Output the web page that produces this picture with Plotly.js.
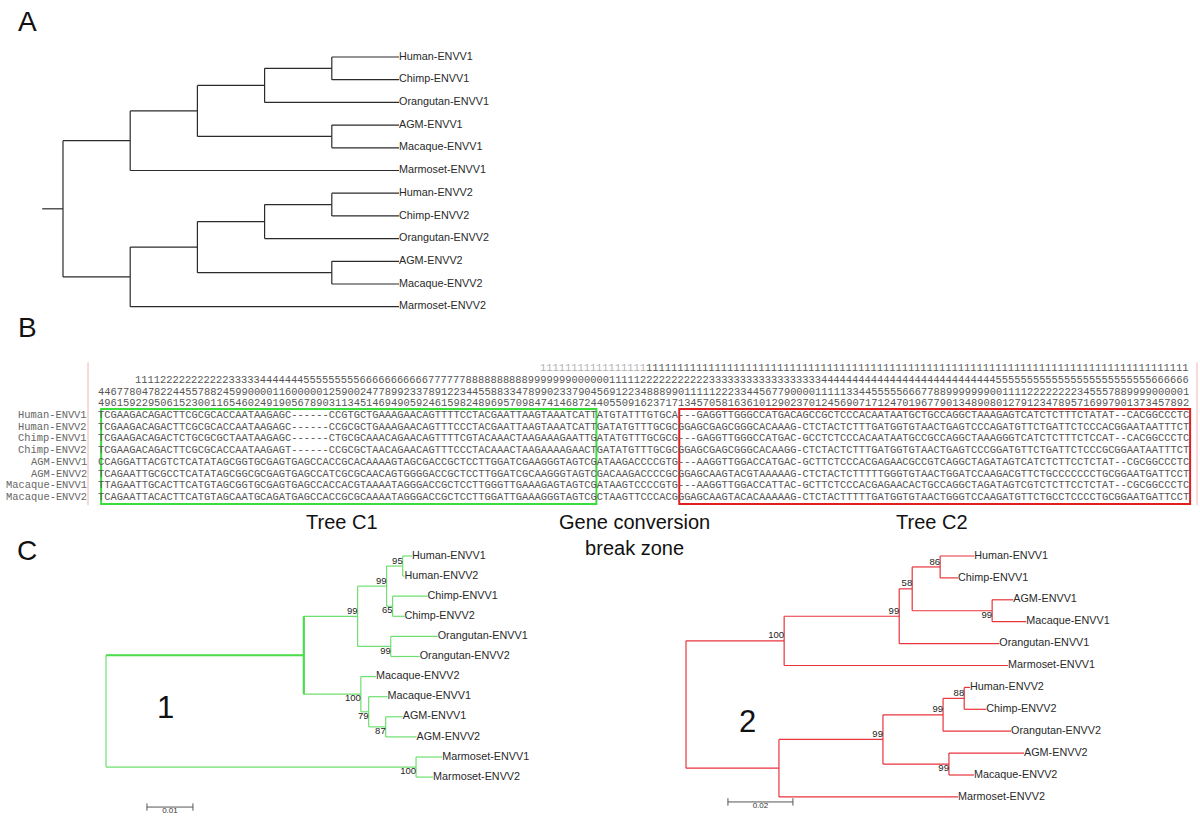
<!DOCTYPE html>
<html><head><meta charset="utf-8">
<script src="https://cdn.plot.ly/plotly-3.0.1.min.js"></script>
<style>html,body{margin:0;padding:0;background:#fff}#chart{width:1200px;height:826px}</style>
</head><body><div id="chart"></div>
<script>
const W = 1200, H = 826;

// ---------------- DATA ----------------
// Panel A: cladogram topology
const treeA = "(((((Human-ENVV1,Chimp-ENVV1),Orangutan-ENVV1),(AGM-ENVV1,Macaque-ENVV1)),Marmoset-ENVV1),((((Human-ENVV2,Chimp-ENVV2),Orangutan-ENVV2),(AGM-ENVV2,Macaque-ENVV2)),Marmoset-ENVV2));";
// Panel C1: region 1 tree (branch lengths, bootstrap values)
const treeC1 = "(((((Human-ENVV1:0.0020,Human-ENVV2:0.0004)95:0.0035,(Chimp-ENVV1:0.0076,Chimp-ENVV2:0.0026)65:0.0013)99:0.0063,(Orangutan-ENVV1:0.0102,Orangutan-ENVV2:0.0063)99:0.0072)99:0.0117,(Macaque-ENVV2:0.0033,(Macaque-ENVV1:0.0041,(AGM-ENVV1:0.0037,AGM-ENVV2:0.0067)87:0.0037)79:0.0017)100:0.0124):0.0430,(Marmoset-ENVV1:0.0057,Marmoset-ENVV2:0.0037)100:0.0674);";
// Panel C2: region 2 tree
const treeC2 = "(((((Human-ENVV1:0.0105,Chimp-ENVV1:0.0055)86:0.0086,(AGM-ENVV1:0.0065,Macaque-ENVV1:0.0105)99:0.0246)58:0.0040,Orangutan-ENVV1:0.0308)99:0.0354,Marmoset-ENVV1:0.0689)100:0.0302,((((Human-ENVV2:0.0018,Chimp-ENVV2:0.0068)88:0.0065,Orangutan-ENVV2:0.0209)99:0.0185,(AGM-ENVV2:0.0231,Macaque-ENVV2:0.0077)99:0.0203)99:0.0320,Marmoset-ENVV2:0.0551):0.0286);";
const scaleBarC1 = 0.01;
const scaleBarC2 = 0.02;

// Panel B: alignment
const seqNames = ["Human-ENVV1","Human-ENVV2","Chimp-ENVV1","Chimp-ENVV2","AGM-ENVV1","AGM-ENVV2","Macaque-ENVV1","Macaque-ENVV2"];
const seqRows = [
 "TCGAAGACAGACTTCGCGCACCAATAAGAGC"+"------"+"CCGTGCTGAAAGAACAGTTTTCCTACGAATTAAGTAAATCATTATGTATTTGTGCA"+"---GAGGTTGGGCCATGAC"+"AGCCGCTCCCACAATAATGCTGCCAGGCTAAAGAGTCATCTCTTTCTATAT--CACGGCCCTC",
 "TCGAAGACAGACTTCGCGCACCAATAAGAGC"+"------"+"CCGCGCTGAAAGAACAGTTTCCCTACGAATTAAGTAAATCATTGATATGTTTGCGC"+"GGAGCGAGCGGGCACAAAG"+"-CTCTACTCTTTGATGGTGTAACTGAGTCCCAGATGTTCTGATTCTCCCACGGAATAATTTCT",
 "TCGAAGACAGACTCTGCGCGCTAATAAGAGC"+"------"+"CTGCGCAAACAGAACAGTTTTCGTACAAACTAAGAAAGAATTGATATGTTTGCGCG"+"---GAGGTTGGGCCATGAC"+"-GCCTCTCCCACAATAATGCCGCCAGGCTAAAGGGTCATCTCTTTCTCCAT--CACGGCCCTC",
 "TCGAAGACAGACTTCGCGCACCAATAAGAGT"+"------"+"CCGCGCTAACAGAACAGTTTCCCTACAAACTAAGAAAAGAACTGATATGTTTGCGC"+"GGAGCGAGCGGGCACAAGG"+"-CTCTACTCTTTGATGGTGTAACTGAGTCCCGGATGTTCTGATTCTCCCGCGGAATAATTTCT",
 "CCAGGATTACGTCTCATATAGCGGTGCGAGTGAGCCA"+"CCGCACAAAAGTAGCGACCGCTCCTTGGATCGAAGGGTAGTCGATAAGACCCCGTG"+"---AAGGTTGGACCATGAC"+"-GCTTCTCCCACGAGAACGCCGTCAGGCTAGATAGTCATCTCTTCCTCTAT--CGCGGCCCTC",
 "TCAGAATTGCGCCTCATATAGCGGCGCGAGTGAGCCA"+"TCGCGCAACAGTGGGGACCGCTCCTTGGATCGCAAGGGTAGTCGACAAGACCCCGC"+"GGAGCAAGTACGTAAAAAG"+"-CTCTACTCTTTTTGGGTGTAACTGGATCCAAGACGTTCTGCCCCCCCTGCGGAATGATTCCT",
 "TTAGAATTGCACTTCATGTAGCGGTGCGAGTGAGCCA"+"CCACGTAAAATAGGGACCGCTCCTTGGGTTGAAAGAGTAGTCGATAAGTCCCCGTG"+"---AAGGTTGGACCATTAC"+"-GCTTCTCCCACGAGAACACTGCCAGGCTAGATAGTCGTCTCTTCCTCTAT--CGCGGCCCTC",
 "TCAGAATTACACTTCATGTAGCAATGCAGATGAGCCA"+"CCGCGCAAAATAGGGACCGCTCCTTGGATTGAAAGGGTAGTCGCTAAGTTCCCACG"+"GGAGCAAGTACACAAAAAG"+"-CTCTACTTTTTGATGGTGTAACTGGGTCCAAGATGTTCTGCCTCCCCTGCGGAATGATTCCT"
];
// position ruler (thousands / hundreds / tens / ones), with start column
const rulerThousandsFaint = "11111111111111111";
const rulerThousands = "1111111111"+"1111111111"+"1111111111"+"1111111111"+"1111111111"+"1111111111"+"1111111111"+"1111111111"+"1111111";
const rulerHundreds = "1111"+"22222222222"+"33333"+"4444444"+"555555555"+"66666666666"+"777777"+"8888888888"+"9999999"+"000000"+"11111"+"22222222222"+"333333333333333333"+"4444444444444444444444444444"+"5555555555555555555555555"+"666666";
const rulerTens = "4467780478"+"2244557882"+"4599000011"+"6000001259"+"0024778992"+"3378912234"+"4558833478"+"9902337904"+"5691223488"+"8990111112"+"2233445677"+"900001111"+"1334455555"+"6667788999"+"999900111"+"1222222223"+"4555788999"+"9000001";
const rulerOnes = "4961592295"+"0615230011"+"6546024919"+"0567890311"+"3451469490"+"5924615982"+"4896957098"+"4741468724"+"4055091623"+"7171345705"+"8163610129"+"0237012456"+"9071712470"+"1967790134"+"8908012791"+"2347895716"+"9979013734"+"57892";
const rulerStarts = [71, 88, 6, 0, 0];
// alignment column ranges of the two regions (tree C1 / tree C2)
const regionC1Cols = [0.5, 80];
const regionC2Cols = [93.3, 175.3];

const panelLetters = ["A", "B", "C"];
const regionTitles = ["Tree C1", "Gene conversion<br>break zone", "Tree C2"];
const cladeNumbers = ["1", "2"];

// ---------------- HELPERS ----------------
function parseNewick(s) {
  let i = 0;
  function node() {
    const n = {children: [], name: "", len: null};
    if (s[i] === "(") {
      i++;
      n.children.push(node());
      while (s[i] === ",") { i++; n.children.push(node()); }
      i++;
    }
    let name = "";
    while (i < s.length && !",):;".includes(s[i])) name += s[i++];
    n.name = name;
    if (s[i] === ":") {
      i++; let l = "";
      while (i < s.length && !",);".includes(s[i])) l += s[i++];
      n.len = parseFloat(l);
    }
    return n;
  }
  return node();
}
function heights(n) { n.h = n.children.length ? 1 + Math.max(...n.children.map(heights)) : 0; return n.h; }
function layoutTree(str, clado) {
  const root = parseNewick(str);
  heights(root);
  let tip = 0;
  (function place(n, px) {
    n.x = clado ? (root.h - n.h) : px + (n.len || 0);
    if (!n.children.length) n.y = tip++;
    else {
      n.children.forEach(c => place(c, n.x));
      n.y = (n.children[0].y + n.children[n.children.length - 1].y) / 2;
    }
  })(root, 0);
  const segs = {x: [], y: []}, tips = [], boots = [];
  (function collect(n, idx, isRoot) {
    if (n.children.length) {
      const f = n.children[0], l = n.children[n.children.length - 1];
      segs.x.push(n.x, n.x, null); segs.y.push(f.y, l.y, null);
      n.children.forEach((c, i) => {
        segs.x.push(n.x, c.x, null); segs.y.push(c.y, c.y, null);
        collect(c, i, false);
      });
      if (!isRoot && n.name) boots.push({x: n.x, y: n.y, t: n.name, pos: idx === 0 ? "top left" : "bottom left"});
    } else tips.push({x: n.x, y: n.y, t: n.name});
  })(root, 0, true);
  return {root, segs, tips, boots};
}
// axis mapping: pixel = a + b * value, axes fill the whole canvas
function xr(a, b) { return [(0 - a) / b, (W - a) / b]; }
function yr(a, b) { return [(H - a) / b, (0 - a) / b]; }
function ax(range, anchor, over) {
  const o = {range, anchor, domain: [0, 1], visible: false, showgrid: false, zeroline: false, fixedrange: true};
  if (over) o.overlaying = over;
  return o;
}

const SANS = "Liberation Sans, Arial, sans-serif";
const MONO = "Liberation Mono, Courier New, monospace";
const traces = [];
const annotations = [];
const shapes = [];

function addTree(t, xa, ya, color, width, labelSize) {
  traces.push({type: "scatter", mode: "lines", x: t.segs.x, y: t.segs.y, xaxis: xa, yaxis: ya,
    line: {color, width}, hoverinfo: "skip", cliponaxis: false});
  traces.push({type: "scatter", mode: "text", x: t.tips.map(d => d.x), y: t.tips.map(d => d.y),
    text: t.tips.map(d => d.t), textposition: "middle right", xaxis: xa, yaxis: ya,
    textfont: {family: SANS, size: labelSize, color: "#2a2a2a"}, hoverinfo: "skip", cliponaxis: false});
  if (t.boots.length) {
    traces.push({type: "scatter", mode: "text", x: t.boots.map(d => d.x), y: t.boots.map(d => d.y),
      text: t.boots.map(d => d.t), textposition: t.boots.map(d => d.pos), xaxis: xa, yaxis: ya,
      textfont: {family: SANS, size: 9.5, color: "#222"}, hoverinfo: "skip", cliponaxis: false});
  }
}

// ---------------- PANEL A ----------------
const tA = layoutTree(treeA, true);
const stubA = 0.31;
tA.segs.x.push(-stubA, tA.root.x, null); tA.segs.y.push(tA.root.y, tA.root.y, null);
addTree(tA, "x", "y", "#2b2b2b", 1.2, 10.8);

// ---------------- PANEL B ----------------
const rulerStrs = [rulerThousandsFaint, rulerThousands, rulerHundreds, rulerTens, rulerOnes];
const rulerRows = [-4, -4, -3, -2, -1];
rulerStrs.forEach((s, k) => annotations.push({xref: "x2", yref: "y2", x: rulerStarts[k], y: rulerRows[k], text: s,
  xanchor: "left", yanchor: "middle", showarrow: false, borderpad: 0, borderwidth: 0,
  font: {family: MONO, size: 10.4, color: k === 0 ? "#b0b0b0" : "#555"}}));
seqRows.forEach((s, i) => {
  annotations.push({xref: "x2", yref: "y2", x: 0, y: i, text: s, xanchor: "left", yanchor: "middle",
    showarrow: false, borderpad: 0, borderwidth: 0, font: {family: MONO, size: 10.4, color: "#555"}});
  annotations.push({xref: "x2", yref: "y2", x: -1.75, y: i, text: seqNames[i], xanchor: "right", yanchor: "middle",
    showarrow: false, borderpad: 0, borderwidth: 0, font: {family: MONO, size: 10.4, color: "#666"}});
});
shapes.push({type: "line", xref: "x2", yref: "y2", x0: -1.6, x1: -1.6, y0: -4.5, y1: 7.7, line: {color: "#f2b5b5", width: 1}});
shapes.push({type: "line", xref: "x2", yref: "y2", x0: 176.4, x1: 176.4, y0: -4.5, y1: 7.7, line: {color: "#f2b5b5", width: 1}});
shapes.push({type: "rect", xref: "x2", yref: "y2", x0: regionC1Cols[0], x1: regionC1Cols[1], y0: -0.52, y1: 7.6, line: {color: "#3ddc3d", width: 2}});
shapes.push({type: "rect", xref: "x2", yref: "y2", x0: regionC2Cols[0], x1: regionC2Cols[1], y0: -0.52, y1: 7.6, line: {color: "#e02020", width: 2}});

// ---------------- PANEL C ----------------
const tC1 = layoutTree(treeC1, false);
addTree(tC1, "x3", "y3", "#6fe06f", 1.2, 10.8);
// emphasised deepest internal branch of tree C1 (root -> ingroup)
const c1a = tC1.root.children[0];
traces.push({type: "scatter", mode: "lines", xaxis: "x3", yaxis: "y3", x: [tC1.root.x, c1a.x, null, c1a.x, c1a.x],
  y: [c1a.y, c1a.y, null, c1a.children[0].y, c1a.children[c1a.children.length - 1].y],
  line: {color: "#4cdc4c", width: 2.2}, hoverinfo: "skip", cliponaxis: false});
const tC2 = layoutTree(treeC2, false);
addTree(tC2, "x4", "y4", "#e8343c", 1.2, 10.8);

function scaleBar(xa, ya, x0, len, yv, tick, label) {
  traces.push({type: "scatter", mode: "lines", xaxis: xa, yaxis: ya,
    x: [x0, x0 + len, null, x0, x0, null, x0 + len, x0 + len],
    y: [yv, yv, null, yv - tick, yv + tick, null, yv - tick, yv + tick],
    line: {color: "#555", width: 1}, hoverinfo: "skip", cliponaxis: false});
  traces.push({type: "scatter", mode: "text", xaxis: xa, yaxis: ya, x: [x0 + len / 2], y: [yv], text: [label],
    textposition: "bottom center", textfont: {family: SANS, size: 8, color: "#333"}, hoverinfo: "skip", cliponaxis: false});
}
scaleBar("x3", "y3", 0.0089, scaleBarC1, 12.49, 0.18, String(scaleBarC1));
scaleBar("x4", "y4", 0.0129, scaleBarC2, 11.23, 0.17, String(scaleBarC2));

// ---------------- TEXTS ----------------
function paperText(px, py, text, size, extra) {
  annotations.push(Object.assign({xref: "paper", yref: "paper", x: px / W, y: 1 - py / H, text,
    showarrow: false, xanchor: "center", yanchor: "middle", font: {family: SANS, size, color: "#111"}}, extra || {}));
}
paperText(27, 21, panelLetters[0], 28);
paperText(27, 327, panelLetters[1], 28);
paperText(27, 550, panelLetters[2], 28);
paperText(342, 522, regionTitles[0], 20);
paperText(634, 535, regionTitles[1], 20);
paperText(932, 522, regionTitles[2], 20);
paperText(165, 707, cladeNumbers[0], 31);
paperText(747, 721, cladeNumbers[1], 31);

const layout = {
  width: W, height: H, margin: {l: 0, r: 0, t: 0, b: 0}, paper_bgcolor: "#fff", plot_bgcolor: "rgba(0,0,0,0)",
  showlegend: false, hovermode: false,
  xaxis: ax(xr(63, 67.2), "y"), yaxis: ax(yr(57, 22.7), "x"),
  xaxis2: ax(xr(98, 6.23), "y2", "x"), yaxis2: ax(yr(415, 11.72), "x2", "y"),
  xaxis3: ax(xr(106, 4600), "y3", "x"), yaxis3: ax(yr(556, 20.1), "x3", "y"),
  xaxis4: ax(xr(686, 3250), "y4", "x"), yaxis4: ax(yr(556, 21.9), "x4", "y"),
  annotations, shapes
};
Plotly.newPlot("chart", traces, layout, {staticPlot: true, displayModeBar: false});
</script></body></html>
